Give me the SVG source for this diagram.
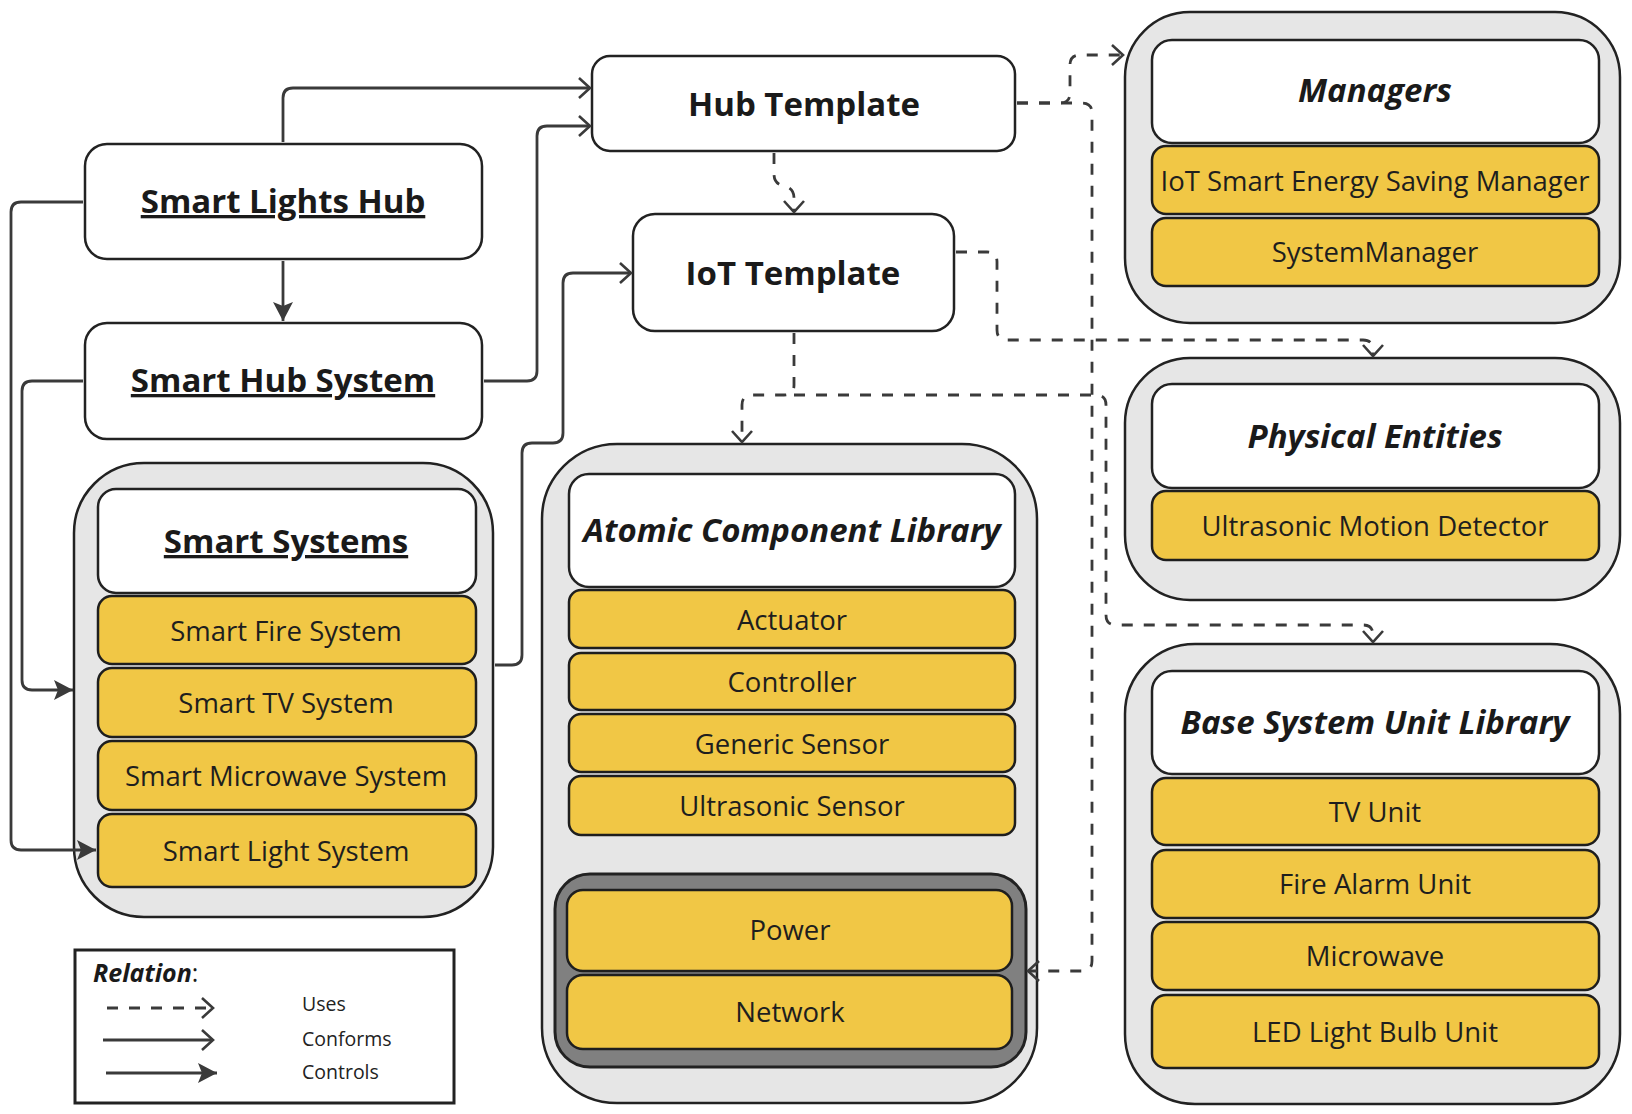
<svg xmlns="http://www.w3.org/2000/svg" width="1632" height="1114" viewBox="0 0 1632 1114">
<style>
.bg{fill:#ffffff}
.box{fill:#ffffff;stroke:#222;stroke-width:2.5}
.cont{fill:#e6e6e6;stroke:#222;stroke-width:2.5}
.hdr{fill:#ffffff;stroke:#222;stroke-width:2.5}
.item{fill:#f1c745;stroke:#1e1e1e;stroke-width:2.5}
.dark{fill:#808080;stroke:#222;stroke-width:3}
.t-title{font-family:"Open Sans","Noto Sans",sans-serif;font-weight:700;font-size:33px;fill:#1a1a1a;text-anchor:middle}
.t-hdr{font-family:"Open Sans","Noto Sans",sans-serif;font-weight:700;font-style:italic;font-size:33px;fill:#1a1a1a;text-anchor:middle}
.t-item{font-family:"Open Sans","Noto Sans",sans-serif;font-size:27.5px;fill:#1e1e1e;text-anchor:middle}
.t-leg{font-family:"Open Sans","Noto Sans",sans-serif;font-size:19.5px;fill:#222}
.u{text-decoration:underline}
.conn{fill:none;stroke:#3a3a3a;stroke-width:2.8}
.dash{stroke-dasharray:11 11}
.legbox{fill:#ffffff;stroke:#222;stroke-width:3}
</style>
<defs>
<marker id="open" markerUnits="userSpaceOnUse" markerWidth="16" markerHeight="24" refX="12" refY="11" orient="auto">
<path d="M1,1 L12,11 L1,21" fill="none" stroke="#3a3a3a" stroke-width="2.6"/>
</marker>
<marker id="fill" markerUnits="userSpaceOnUse" markerWidth="22" markerHeight="24" refX="19" refY="11" orient="auto">
<path d="M0,1 L19,11 L0,21 L4,11 z" fill="#3a3a3a"/>
</marker>
</defs>
<rect class="bg" x="0" y="0" width="1632" height="1114"/>

<g id="hub-template">
<rect class="box" x="592" y="56" width="423" height="95" rx="18"/>
<text class="t-title" x="804" y="116">Hub Template</text>
</g>

<g id="iot-template">
<rect class="box" x="633" y="214" width="321" height="117" rx="22"/>
<text class="t-title" x="793" y="285">IoT Template</text>
</g>

<g id="smart-lights-hub">
<rect class="box" x="85" y="144" width="397" height="115" rx="22"/>
<text class="t-title u" x="283" y="213">Smart Lights Hub</text>
</g>

<g id="smart-hub-system">
<rect class="box" x="85" y="323" width="397" height="116" rx="22"/>
<text class="t-title u" x="283" y="392">Smart Hub System</text>
</g>

<g id="smart-systems">
<rect class="cont" x="74" y="463" width="419" height="454" rx="70"/>
<rect class="hdr" x="98" y="489" width="378" height="104" rx="18"/>
<text class="t-title u" x="286" y="553">Smart Systems</text>
<rect class="item" x="98" y="596" width="378" height="68" rx="14"/>
<text class="t-item" x="286" y="641">Smart Fire System</text>
<rect class="item" x="98" y="668" width="378" height="69" rx="14"/>
<text class="t-item" x="286" y="713">Smart TV System</text>
<rect class="item" x="98" y="741" width="378" height="69" rx="14"/>
<text class="t-item" x="286" y="786">Smart Microwave System</text>
<rect class="item" x="98" y="814" width="378" height="73" rx="14"/>
<text class="t-item" x="286" y="861">Smart Light System</text>
</g>

<g id="atomic-component-library">
<rect class="cont" x="542" y="444" width="495" height="659" rx="75"/>
<rect class="hdr" x="569" y="474" width="446" height="113" rx="20"/>
<text class="t-hdr" x="792" y="542">Atomic Component Library</text>
<rect class="item" x="569" y="590" width="446" height="58" rx="12"/>
<text class="t-item" x="792" y="630">Actuator</text>
<rect class="item" x="569" y="653" width="446" height="57" rx="12"/>
<text class="t-item" x="792" y="692">Controller</text>
<rect class="item" x="569" y="714" width="446" height="58" rx="12"/>
<text class="t-item" x="792" y="754">Generic Sensor</text>
<rect class="item" x="569" y="776" width="446" height="59" rx="12"/>
<text class="t-item" x="792" y="816">Ultrasonic Sensor</text>
<g id="power-network">
<rect class="dark" x="555" y="874" width="471" height="193" rx="35"/>
<rect class="item" x="567" y="890" width="445" height="81" rx="16"/>
<text class="t-item" x="790" y="940">Power</text>
<rect class="item" x="567" y="975" width="445" height="74" rx="16"/>
<text class="t-item" x="790" y="1022">Network</text>
</g>
</g>

<g id="managers">
<rect class="cont" x="1125" y="12" width="495" height="311" rx="65"/>
<rect class="hdr" x="1152" y="40" width="447" height="103" rx="20"/>
<text class="t-hdr" x="1375" y="102">Managers</text>
<rect class="item" x="1152" y="146" width="447" height="68" rx="14"/>
<text class="t-item" x="1375" y="191">IoT Smart Energy Saving Manager</text>
<rect class="item" x="1152" y="218" width="447" height="68" rx="14"/>
<text class="t-item" x="1375" y="262">SystemManager</text>
</g>

<g id="physical-entities">
<rect class="cont" x="1125" y="358" width="495" height="242" rx="65"/>
<rect class="hdr" x="1152" y="384" width="447" height="104" rx="20"/>
<text class="t-hdr" x="1375" y="448">Physical Entities</text>
<rect class="item" x="1152" y="491" width="447" height="69" rx="14"/>
<text class="t-item" x="1375" y="536">Ultrasonic Motion Detector</text>
</g>

<g id="base-system-unit-library">
<rect class="cont" x="1125" y="644" width="495" height="460" rx="70"/>
<rect class="hdr" x="1152" y="671" width="447" height="103" rx="20"/>
<text class="t-hdr" x="1375" y="734">Base System Unit Library</text>
<rect class="item" x="1152" y="778" width="447" height="67" rx="14"/>
<text class="t-item" x="1375" y="822">TV Unit</text>
<rect class="item" x="1152" y="850" width="447" height="68" rx="14"/>
<text class="t-item" x="1375" y="894">Fire Alarm Unit</text>
<rect class="item" x="1152" y="922" width="447" height="68" rx="14"/>
<text class="t-item" x="1375" y="966">Microwave</text>
<rect class="item" x="1152" y="995" width="447" height="73" rx="14"/>
<text class="t-item" x="1375" y="1042">LED Light Bulb Unit</text>
</g>

<g id="connectors">
<path class="conn" d="M283 142 V98 Q283 88 293 88 H590" marker-end="url(#open)"/>
<path class="conn" d="M484 381 H527 Q537 381 537 371 V136 Q537 126 547 126 H590" marker-end="url(#open)"/>
<path class="conn" d="M283 261 V321" marker-end="url(#fill)"/>
<path class="conn" d="M83 202 H21 Q11 202 11 212 V840 Q11 850 21 850 H96" marker-end="url(#fill)"/>
<path class="conn" d="M83 381 H32 Q22 381 22 391 V680 Q22 690 32 690 H73" marker-end="url(#fill)"/>
<path class="conn" d="M495 665 H512 Q522 665 522 655 V453 Q522 443 532 443 H553 Q563 443 563 433 V283 Q563 273 573 273 H631" marker-end="url(#open)"/>
<path class="conn dash" d="M774 153 V174 Q774 184 784 186 Q794 188 794 198 V212" marker-end="url(#open)"/>
<path class="conn dash" d="M1017 103 H1060 Q1070 103 1070 93 V65 Q1070 55 1080 55 H1123" marker-end="url(#open)"/>
<path class="conn dash" d="M1017 103 H1082 Q1092 103 1092 113 V961 Q1092 971 1082 971 H1028" marker-end="url(#open)"/>
<path class="conn dash" d="M956 252 H987 Q997 252 997 262 V330 Q997 340 1007 340 H1363 Q1373 340 1373 350 V356" marker-end="url(#open)"/>
<path class="conn dash" d="M794 333 V385 Q794 395 784 395 H752 Q742 395 742 405 V442" marker-end="url(#open)"/>
<path class="conn dash" d="M794 395 H1096 Q1106 395 1106 405 V615 Q1106 625 1116 625 H1363 Q1373 625 1373 635 V642" marker-end="url(#open)"/>
</g>

<g id="legend">
<rect class="legbox" x="75" y="950" width="379" height="153"/>
<text x="93" y="982" font-family="Open Sans, Noto Sans, sans-serif" font-size="25" fill="#1a1a1a"><tspan font-weight="700" font-style="italic">Relation</tspan>:</text>
<path class="conn dash" d="M107 1008 H213" marker-end="url(#open)"/>
<path class="conn" d="M103 1040 H213" marker-end="url(#open)"/>
<path class="conn" d="M106 1073 H217" marker-end="url(#fill)"/>
<text class="t-leg" x="302" y="1011">Uses</text>
<text class="t-leg" x="302" y="1046">Conforms</text>
<text class="t-leg" x="302" y="1079">Controls</text>
</g>
</svg>
